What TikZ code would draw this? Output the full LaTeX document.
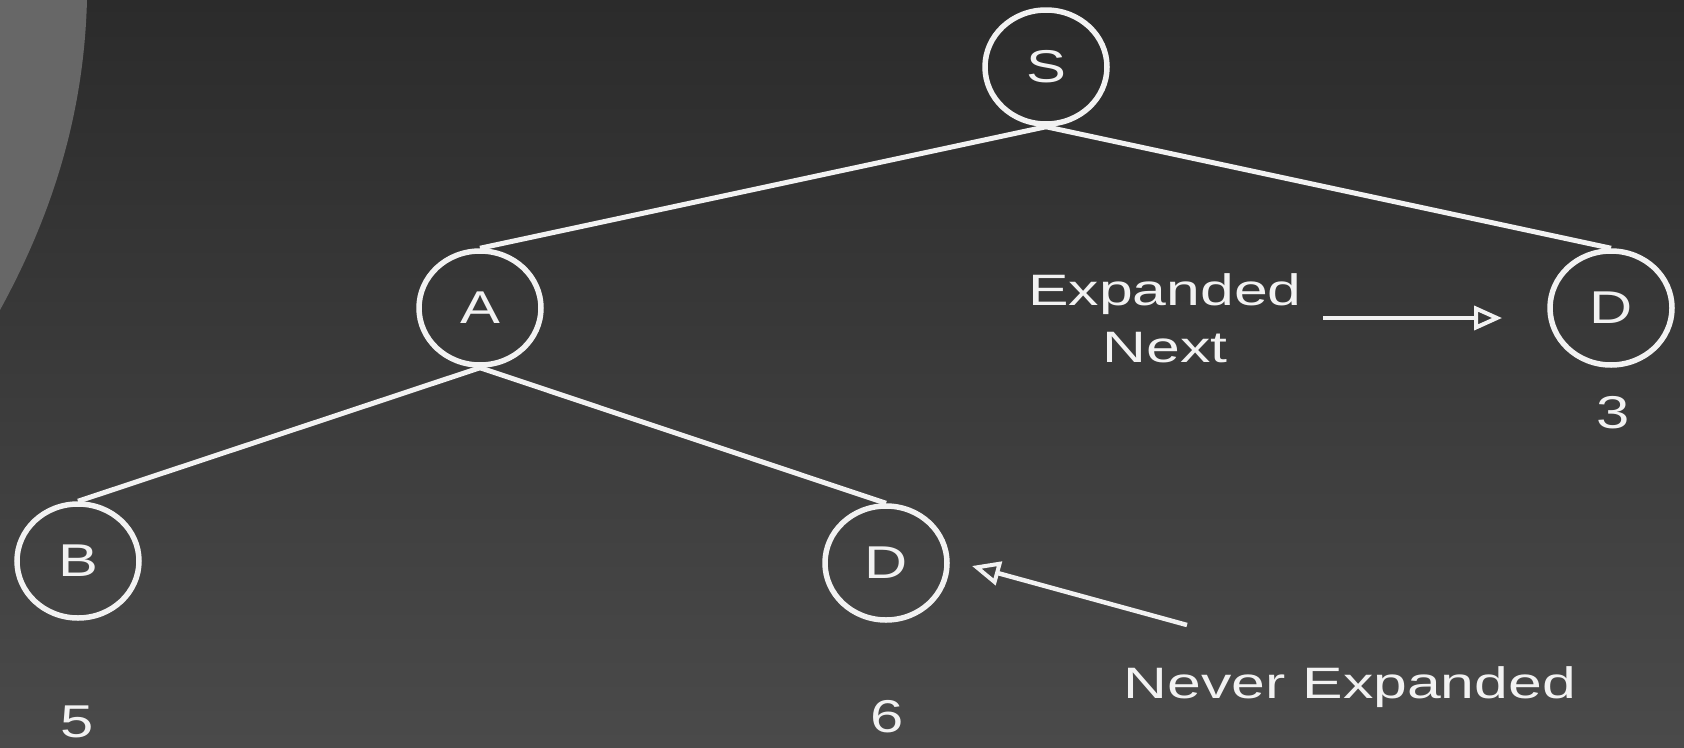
\documentclass[tikz,border=0pt]{standalone}
\usepackage{fontspec}
\usepackage{graphicx}
\setmainfont{Liberation Sans}
\usetikzlibrary{shapes.geometric,arrows.meta}
\definecolor{bgtop}{HTML}{2B2B2B}
\definecolor{bgbot}{HTML}{4A4A4A}
\definecolor{blob}{HTML}{676767}
\definecolor{ink}{HTML}{F2F2F2}
\newcommand{\wide}[1]{\scalebox{1.38}[1]{#1}}
\newcommand{\cwide}[1]{\scalebox{1.3}[1]{#1}}
\tikzset{
  tnode/.style={ellipse, draw=ink, line width=5.5pt, minimum width=122pt, minimum height=114pt, inner sep=0pt, text=ink, font=\fontsize{46}{48}\selectfont},
  tedge/.style={draw=ink, line width=5pt},
  lbl/.style={text=ink, font=\fontsize{44}{57}\selectfont, align=center, inner sep=0pt},
  num/.style={text=ink, font=\fontsize{46}{48}\selectfont, inner sep=0pt},
  pointer/.style={draw=ink, line width=4.5pt, -{Triangle[open, length=28pt, width=24pt, line width=4pt]}}
}
\begin{document}
\begin{tikzpicture}[x=1pt,y=-1pt]
\shade[top color=bgtop, bottom color=bgbot] (0,0) rectangle (1684,747);
\useasboundingbox (0,0) rectangle (1684,747);
\fill[blob] (0,0) -- (87,0) .. controls (84,115) and (52,215) .. (0,310) -- cycle;

\node[tnode] (S) at (1046,67) {\cwide{S}};
\node[tnode] (A) at (480,308) {\cwide{A}};
\node[tnode] (D1) at (1611,308) {\cwide{D}};
\node[tnode] (B) at (78,561) {\cwide{B}};
\node[tnode] (D2) at (886,563) {\cwide{D}};

\draw[tedge] (S.south) -- (A.north);
\draw[tedge] (S.south) -- (D1.north);
\draw[tedge] (A.south) -- (B.north);
\draw[tedge] (A.south) -- (D2.north);

\node[num] (n3) at (1613,413) {\cwide{3}};
\node[num] (n5) at (77,722) {\cwide{5}};
\node[num] (n6) at (887,717) {\cwide{6}};

\node[lbl] (en) at (1165,318) {\wide{Expanded}\\\wide{Next}};
\node[lbl] (ne) at (1350,687) {\wide{Never Expanded}};

\coordinate (a1s) at (1323,318);
\coordinate (a1e) at (1502,318);
\coordinate (a2s) at (1187,625);
\coordinate (a2e) at (972,566);
\draw[pointer] (a1s) -- (a1e);
\draw[pointer] (a2s) -- (a2e);
\end{tikzpicture}
\end{document}
